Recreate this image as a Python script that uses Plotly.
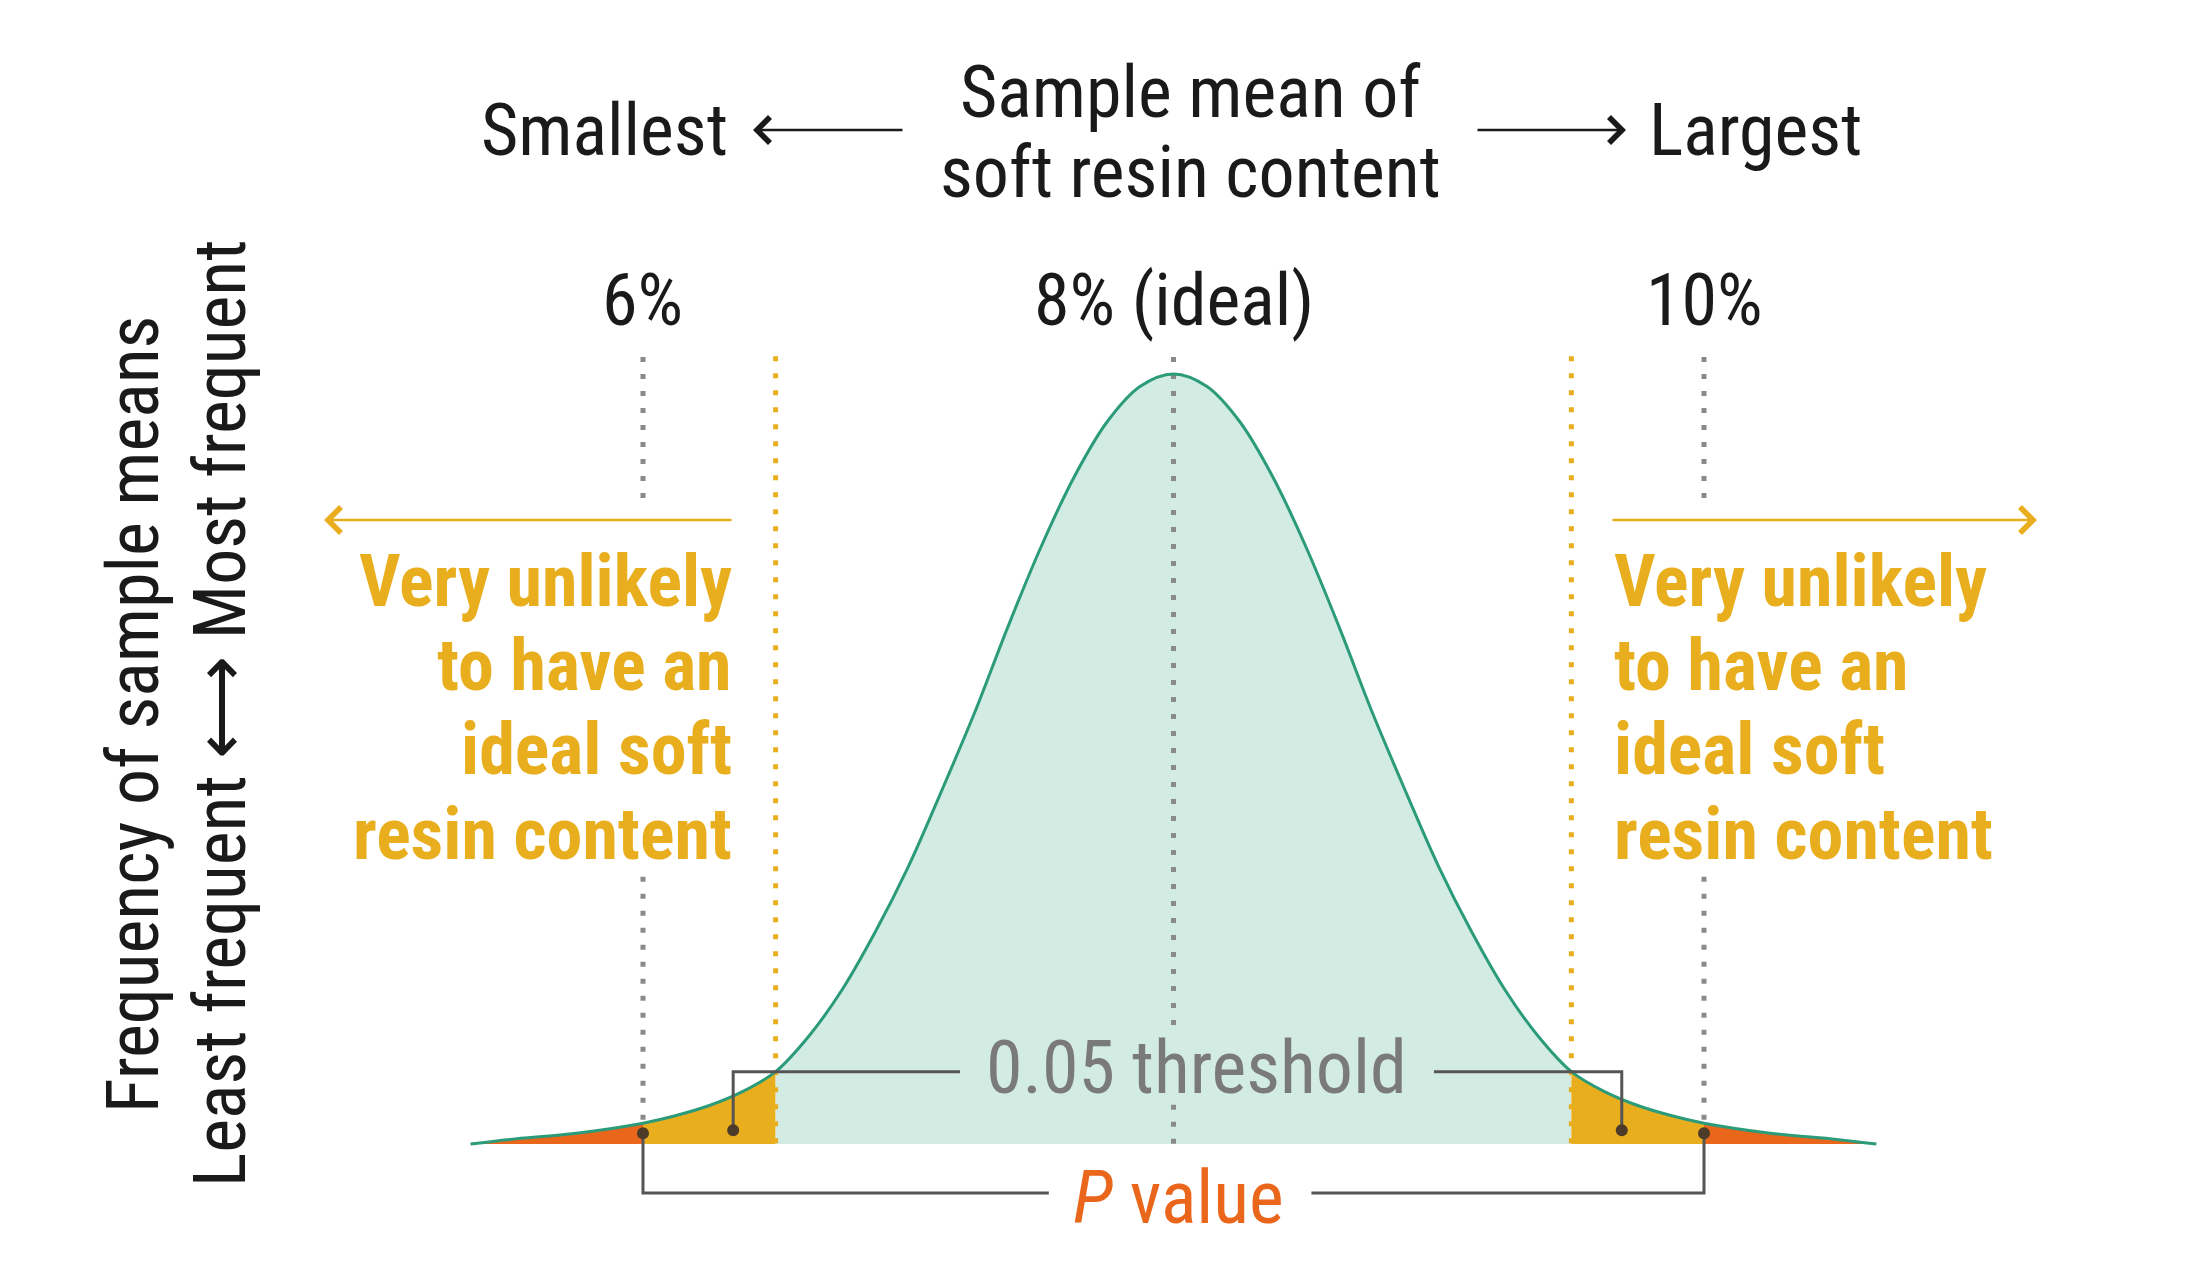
import plotly.graph_objects as go

# curve of sample means (x in %, y relative to the peak)
x_pct = [5.35, 5.5, 5.75, 6.0, 6.125, 6.25, 6.375, 6.5, 6.625, 6.75, 6.875, 7.0,
         7.125, 7.25, 7.375, 7.5, 7.625, 7.75, 7.875, 8.0, 8.125, 8.25, 8.375,
         8.5, 8.625, 8.75, 8.875, 9.0, 9.125, 9.25, 9.375, 9.5, 9.625, 9.75,
         9.875, 10.0, 10.25, 10.5, 10.65]
freq = [0.0, 0.006, 0.014, 0.027, 0.037, 0.05, 0.068, 0.094, 0.14, 0.20, 0.275, 0.36,
        0.458, 0.56, 0.671, 0.775, 0.866, 0.938, 0.984, 1.0, 0.984, 0.938, 0.866,
        0.775, 0.671, 0.56, 0.458, 0.36, 0.275, 0.20, 0.14, 0.094, 0.068, 0.05,
        0.037, 0.027, 0.014, 0.006, 0.0]

ticks = [6, 8, 10]
tick_labels = ['6%', '8% (ideal)', '10%']
thresholds = [6.5, 9.5]
warn_lines = ['Very unlikely', 'to have an', 'ideal soft', 'resin content']

W, H = 2188, 1280
FONT = 'Liberation Sans Narrow, Roboto Condensed, Arial Narrow, Liberation Sans, sans-serif'
SIZE = 72
MINT = '#d3ece3'
TEAL = '#2b9b7a'
GOLD = '#e9ae1e'
RED = '#e9661b'
GREY = '#8a8a8a'
DARK = '#555555'


def fx(p):
    return p / W


def fy(p):
    return 1 - p / H


def seg(lo, hi):
    pts = [(x, y) for x, y in zip(x_pct, freq) if lo <= x <= hi]
    return [p[0] for p in pts], [p[1] for p in pts]


fig = go.Figure()

# filled areas under the curve
for lo, hi, col in [(0, 6, RED), (6, 6.5, GOLD), (6.5, 9.5, MINT), (9.5, 10, GOLD), (10, 99, RED)]:
    xs, ys = seg(lo, hi)
    fig.add_trace(go.Scatter(x=xs, y=ys, mode='lines', line=dict(width=0, shape='spline'),
                             fill='tozeroy', fillcolor=col, hoverinfo='skip'))

y_at = dict(zip(x_pct, freq))

# grey dotted guides at 6% and 10%, broken around the text
for t in [6, 10]:
    for y0, y1 in [(1.022, 0.827), (0.347, y_at[t])]:
        fig.add_trace(go.Scatter(x=[t, t], y=[y0, y1], mode='lines',
                                 line=dict(color=GREY, width=5, dash='5px,12px'), hoverinfo='skip'))
# centre guide, broken behind the threshold label
for y0, y1 in [(1.022, 0.148), (0.051, 0)]:
    fig.add_trace(go.Scatter(x=[8, 8], y=[y0, y1], mode='lines',
                             line=dict(color=GREY, width=5, dash='5px,12px'), hoverinfo='skip'))
# orange dotted threshold lines
for t in thresholds:
    fig.add_trace(go.Scatter(x=[t, t], y=[1.023, 0], mode='lines',
                             line=dict(color=GOLD, width=5, dash='5px,12px'), hoverinfo='skip'))

# the curve itself
fig.add_trace(go.Scatter(x=x_pct, y=freq, mode='lines',
                         line=dict(color=TEAL, width=3, shape='spline'), hoverinfo='skip'))

# 0.05 threshold brackets
fig.add_trace(go.Scatter(x=[6.34, 6.34, 7.195], y=[0.018, 0.094, 0.094], mode='lines',
                         line=dict(color=DARK, width=3), hoverinfo='skip'))
fig.add_trace(go.Scatter(x=[8.982, 9.69, 9.69], y=[0.094, 0.094, 0.018], mode='lines',
                         line=dict(color=DARK, width=3), hoverinfo='skip'))
# P value bracket
fig.add_trace(go.Scatter(x=[7.53, 6, 6], y=[-0.0636, -0.0636, 0.014], mode='lines',
                         line=dict(color=DARK, width=3), hoverinfo='skip'))
fig.add_trace(go.Scatter(x=[8.52, 10, 10], y=[-0.0636, -0.0636, 0.014], mode='lines',
                         line=dict(color=DARK, width=3), hoverinfo='skip'))
fig.add_trace(go.Scatter(x=[6.34, 9.69, 6, 10], y=[0.018, 0.018, 0.014, 0.014], mode='markers',
                         marker=dict(color='#4b3b28', size=12), hoverinfo='skip'))

ann = []
txt = dict(family=FONT, size=SIZE, color='#1a1a1a')

ann.append(dict(xref='paper', yref='paper', x=fx(1190), y=fy(92), text='Sample mean of', font=txt))
ann.append(dict(xref='paper', yref='paper', x=fx(1190), y=fy(173), text='soft resin content', font=txt))
ann.append(dict(xref='paper', yref='paper', x=fx(730), y=fy(130), text='Smallest', xanchor='right', font=txt))
ann.append(dict(xref='paper', yref='paper', x=fx(1647), y=fy(130), text='Largest', xanchor='left', font=txt))
for t, lab in zip(ticks, tick_labels):
    ann.append(dict(xref='x', yref='paper', x=t, y=fy(300), text=lab, font=txt))

ann.append(dict(xref='paper', yref='paper', x=fx(133), y=fy(715), text='Frequency of sample means',
                textangle=-90, font=txt))
ann.append(dict(xref='paper', yref='paper', x=fx(220), y=fy(713), text='Least frequent ⟷ Most frequent',
                textangle=-90, font=txt))

gold = dict(family=FONT, size=SIZE, color=GOLD, weight='bold')
for line, yp in zip(warn_lines, [581, 665, 749, 834]):
    ann.append(dict(xref='paper', yref='paper', x=fx(734), y=fy(yp), text=line, xanchor='right', font=gold))
    ann.append(dict(xref='paper', yref='paper', x=fx(1612), y=fy(yp), text=line, xanchor='left', font=gold))

ann.append(dict(xref='paper', yref='paper', x=fx(1196), y=fy(1067), text='0.05 threshold',
                font=dict(family=FONT, size=SIZE + 2, color='#7a7a7a')))
ann.append(dict(xref='paper', yref='paper', x=fx(1178), y=fy(1197), text='<i>P</i> value',
                font=dict(family=FONT, size=SIZE + 2, color=RED)))

# arrows
for xh, yh, dx, col in [(753, 130, 151, '#1a1a1a'), (1626, 130, -150, '#1a1a1a'),
                        (324, 520, 409, GOLD), (2037, 520, -426, GOLD)]:
    ann.append(dict(xref='paper', yref='paper', x=fx(xh), y=fy(yh), ax=dx, ay=0, text='',
                    showarrow=True, arrowhead=4, arrowsize=2, arrowwidth=2.5, arrowcolor=col))

for a in ann:
    a.setdefault('showarrow', False)
    a.setdefault('xanchor', 'center')
    a.setdefault('yanchor', 'middle')

fig.update_layout(
    width=W, height=H,
    margin=dict(l=0, r=0, t=0, b=0, pad=0),
    paper_bgcolor='white', plot_bgcolor='white',
    showlegend=False,
    xaxis=dict(range=[3.5759, 11.8247], visible=False, fixedrange=True),
    yaxis=dict(range=[-0.1766, 1.4857], visible=False, fixedrange=True),
    annotations=ann,
)

fig.write_html('out.html', config={'displayModeBar': False},
               post_script="document.body.style.margin='0';")
